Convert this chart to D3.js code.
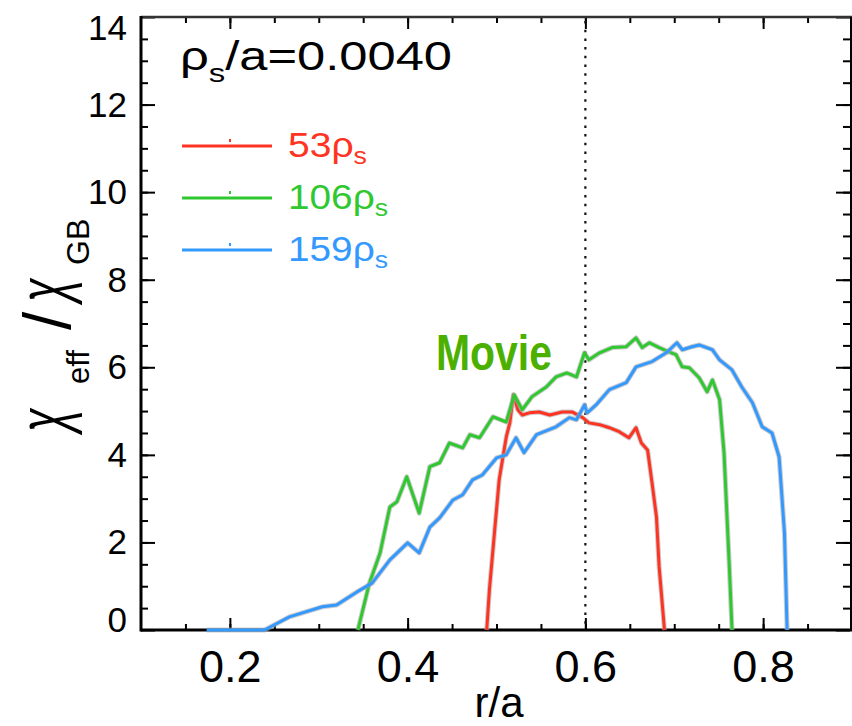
<!DOCTYPE html>
<html>
<head>
<meta charset="utf-8">
<script src="https://cdn.jsdelivr.net/npm/d3@7"></script>
<style>
  body { margin: 0; background: #fff; }
  svg { display: block; }
  text { font-family: "Liberation Sans", Arial, Helvetica, sans-serif; }
</style>
</head>
<body>
<script>
// r/a values and chi_eff/chi_GB
const r53   = [0.489, 0.492, 0.498, 0.503, 0.511, 0.515, 0.519, 0.524, 0.529, 0.537, 0.548, 0.560, 0.574, 0.585, 0.597, 0.604, 0.616, 0.627, 0.638, 0.649, 0.657, 0.663, 0.670, 0.675, 0.680, 0.683, 0.689];
const chi53 = [0, 0.91, 2.29, 3.43, 4.41, 4.73, 5.37, 5.03, 4.91, 4.96, 4.98, 4.91, 4.98, 4.98, 4.85, 4.73, 4.69, 4.62, 4.53, 4.39, 4.62, 4.27, 4.11, 3.36, 2.58, 1.44, 0];

const r106   = [0.344, 0.357, 0.369, 0.380, 0.388, 0.399, 0.413, 0.425, 0.436, 0.447, 0.462, 0.470, 0.481, 0.496, 0.511, 0.520, 0.529, 0.540, 0.556, 0.567, 0.579, 0.590, 0.599, 0.604, 0.616, 0.630, 0.646, 0.657, 0.664, 0.672, 0.683, 0.694, 0.702, 0.709, 0.717, 0.728, 0.737, 0.743, 0.751, 0.756, 0.762, 0.765];
const chi106 = [0, 1.07, 1.76, 2.81, 2.93, 3.50, 2.67, 3.73, 3.82, 4.27, 4.16, 4.46, 4.39, 4.87, 4.75, 5.37, 5.03, 5.33, 5.55, 5.78, 5.87, 5.78, 6.33, 6.17, 6.33, 6.45, 6.47, 6.67, 6.45, 6.56, 6.45, 6.35, 6.29, 6.01, 5.99, 5.76, 5.44, 5.71, 5.26, 4.05, 1.44, 0];

const r159   = [0.174, 0.239, 0.267, 0.304, 0.320, 0.343, 0.360, 0.380, 0.400, 0.413, 0.425, 0.436, 0.451, 0.462, 0.473, 0.484, 0.500, 0.511, 0.522, 0.531, 0.545, 0.567, 0.582, 0.590, 0.599, 0.602, 0.612, 0.627, 0.646, 0.657, 0.675, 0.691, 0.703, 0.709, 0.720, 0.728, 0.743, 0.751, 0.765, 0.776, 0.788, 0.799, 0.810, 0.818, 0.824, 0.827];
const chi159 = [0, 0, 0.30, 0.53, 0.57, 0.87, 1.07, 1.60, 1.99, 1.76, 2.35, 2.56, 2.97, 3.09, 3.43, 3.54, 3.93, 4.00, 4.39, 4.05, 4.46, 4.64, 4.85, 4.80, 5.14, 4.96, 5.14, 5.49, 5.65, 6.01, 6.13, 6.33, 6.56, 6.40, 6.47, 6.51, 6.40, 6.17, 5.94, 5.55, 5.19, 4.64, 4.50, 3.95, 2.22, 0];

const seriesLabels = ["53", "106", "159"];
const seriesColors = ["#ff3322", "#30c830", "#3399ff"];
const rTicks = [0.2, 0.4, 0.6, 0.8];
const chiTicks = [0, 2, 4, 6, 8, 10, 12, 14];
const markerR = 0.6;

const series = [
  { label: seriesLabels[0], color: seriesColors[0], pts: r53.map((r, i) => [r, chi53[i]]) },
  { label: seriesLabels[1], color: seriesColors[1], pts: r106.map((r, i) => [r, chi106[i]]) },
  { label: seriesLabels[2], color: seriesColors[2], pts: r159.map((r, i) => [r, chi159[i]]) }
];

const W = 852, H = 726;
const x = d3.scaleLinear().domain([0.1, 0.9]).range([141, 852]);
const y = d3.scaleLinear().domain([0, 14]).range([630, 17]);

const svg = d3.select('body').append('svg')
  .attr('width', W)
  .attr('height', H);

// minor ticks (inward)
const minorX = d3.range(0.15, 0.9, 0.05).map(v => +v.toFixed(2));
const minorY = d3.range(0.5, 14, 0.5);

svg.append('g')
  .attr('transform', `translate(0,${y(0)})`)
  .call(d3.axisBottom(x).tickValues(minorX).tickSize(-6).tickFormat(''))
  .call(g => g.select('.domain').remove());
svg.append('g')
  .attr('transform', `translate(0,${y(14)})`)
  .call(d3.axisTop(x).tickValues(minorX).tickSize(-6).tickFormat(''))
  .call(g => g.select('.domain').remove());
svg.append('g')
  .attr('transform', `translate(${x(0.1)},0)`)
  .call(d3.axisLeft(y).tickValues(minorY).tickSize(-7).tickFormat(''))
  .call(g => g.select('.domain').remove());
svg.append('g')
  .attr('transform', `translate(${x(0.9) - 2},0)`)
  .call(d3.axisRight(y).tickValues(minorY).tickSize(-7).tickFormat(''))
  .call(g => g.select('.domain').remove());

// major ticks + labels
svg.append('g')
  .attr('transform', `translate(0,${y(0)})`)
  .call(d3.axisBottom(x).tickValues(rTicks).tickSize(-12).tickPadding(20).tickFormat(d3.format('.1f')))
  .call(g => g.select('.domain').remove())
  .call(g => g.selectAll('text').attr('font-size', 45).attr('fill', '#000').attr('font-family', '"Liberation Sans", Arial, sans-serif'));
svg.append('g')
  .attr('transform', `translate(0,${y(14)})`)
  .call(d3.axisTop(x).tickValues(rTicks).tickSize(-12).tickFormat(''))
  .call(g => g.select('.domain').remove());
svg.append('g')
  .attr('transform', `translate(${x(0.1)},0)`)
  .call(d3.axisLeft(y).tickValues(chiTicks).tickSize(-14).tickPadding(14))
  .call(g => g.select('.domain').remove())
  .call(g => g.selectAll('text').attr('font-size', 35).attr('fill', '#000').attr('font-family', '"Liberation Sans", Arial, sans-serif')
    .attr('dy', d => d === 0 ? '0.05em' : d === 14 ? '0.65em' : '0.33em'));
svg.append('g')
  .attr('transform', `translate(${x(0.9) - 2},0)`)
  .call(d3.axisRight(y).tickValues(chiTicks).tickSize(-14).tickFormat(''))
  .call(g => g.select('.domain').remove());

svg.selectAll('.tick line').attr('stroke', '#000').attr('stroke-width', 2);

// frame
svg.append('line').attr('x1', x(0.1)).attr('x2', x(0.9)).attr('y1', y(14)).attr('y2', y(14)).attr('stroke', '#333').attr('stroke-width', 2.5);
svg.append('line').attr('x1', x(0.9) - 1).attr('x2', x(0.9) - 1).attr('y1', y(14)).attr('y2', y(0)).attr('stroke', '#000').attr('stroke-width', 2);
svg.append('line').attr('x1', x(0.1)).attr('x2', x(0.1)).attr('y1', y(14) - 1).attr('y2', y(0) + 1.5).attr('stroke', '#000').attr('stroke-width', 3);
svg.append('line').attr('x1', x(0.1)).attr('x2', x(0.9)).attr('y1', y(0)).attr('y2', y(0)).attr('stroke', '#000').attr('stroke-width', 3);

// dotted marker line at r/a = 0.6
svg.append('line')
  .attr('x1', x(markerR)).attr('x2', x(markerR))
  .attr('y1', y(14) + 4).attr('y2', y(0))
  .attr('stroke', '#111').attr('stroke-width', 2.2)
  .attr('stroke-dasharray', '2.5,6.2');

// curves
const line = d3.line().x(d => x(d[0])).y(d => y(d[1]));
const curves = svg.append('g');
series.forEach(s => {
  curves.append('path').attr('d', line(s.pts)).attr('fill', 'none')
    .attr('stroke', '#aaa').attr('stroke-width', 5).attr('stroke-linejoin', 'round').attr('opacity', 0.6);
  curves.append('path').attr('d', line(s.pts)).attr('fill', 'none')
    .attr('stroke', s.color).attr('stroke-width', 3).attr('stroke-linejoin', 'round');
});

// annotation text
const title = svg.append('text').attr('x', 180).attr('y', 70).attr('font-size', 40).attr('fill', '#000')
  .attr('textLength', 272).attr('lengthAdjust', 'spacingAndGlyphs');
title.append('tspan').text('ρ');
title.append('tspan').attr('font-size', 26).attr('dy', 12).text('s');
title.append('tspan').attr('dy', -12).text('/a=0.0040');

svg.append('text')
  .attr('x', 436).attr('y', 370)
  .attr('font-size', 50).attr('font-weight', 'bold')
  .attr('fill', '#4cb000')
  .attr('textLength', 116).attr('lengthAdjust', 'spacingAndGlyphs')
  .text('Movie');

// legend
const legendWidths = [79, 100, 100];
const legend = svg.append('g');
series.forEach((s, i) => {
  const ly = 146 + i * 52;
  legend.append('line').attr('x1', 182).attr('x2', 272).attr('y1', ly).attr('y2', ly)
    .attr('stroke', s.color).attr('stroke-width', 3);
  legend.append('rect').attr('x', 229).attr('y', ly - 7).attr('width', 2).attr('height', 3).attr('fill', s.color);
  const t = legend.append('text').attr('x', 288).attr('y', ly + 11).attr('font-size', 35).attr('fill', s.color)
    .attr('textLength', legendWidths[i]).attr('lengthAdjust', 'spacingAndGlyphs');
  t.append('tspan').text(s.label + 'ρ');
  t.append('tspan').attr('font-size', 24).attr('dy', 7).text('s');
});

// axis titles
svg.append('text')
  .attr('x', 499).attr('y', 717)
  .attr('text-anchor', 'middle')
  .attr('font-size', 42).attr('fill', '#000')
  .text('r/a');

// y label pieces: chi_eff / chi_GB, stacked bottom-to-top
const ylab = svg.append('g').attr('fill', '#000');
const chiGlyph = (bx, by) => ylab.append('text')
  .attr('transform', `translate(${bx},${by}) rotate(-90) scale(0.62,1)`)
  .attr('font-size', 70).attr('font-style', 'italic').text('χ');
chiGlyph(67, 432);
chiGlyph(67, 302);
ylab.append('text').attr('transform', 'translate(89,384) rotate(-90)').attr('font-size', 31).text('eff');
ylab.append('text').attr('transform', 'translate(70,330) rotate(-90)')
  .attr('font-family', '"DejaVu Sans", sans-serif').attr('font-weight', 200)
  .attr('font-size', 66).text('/');
ylab.append('text').attr('transform', 'translate(89,265) rotate(-90)').attr('font-size', 32).text('GB');
</script>
</body>
</html>
